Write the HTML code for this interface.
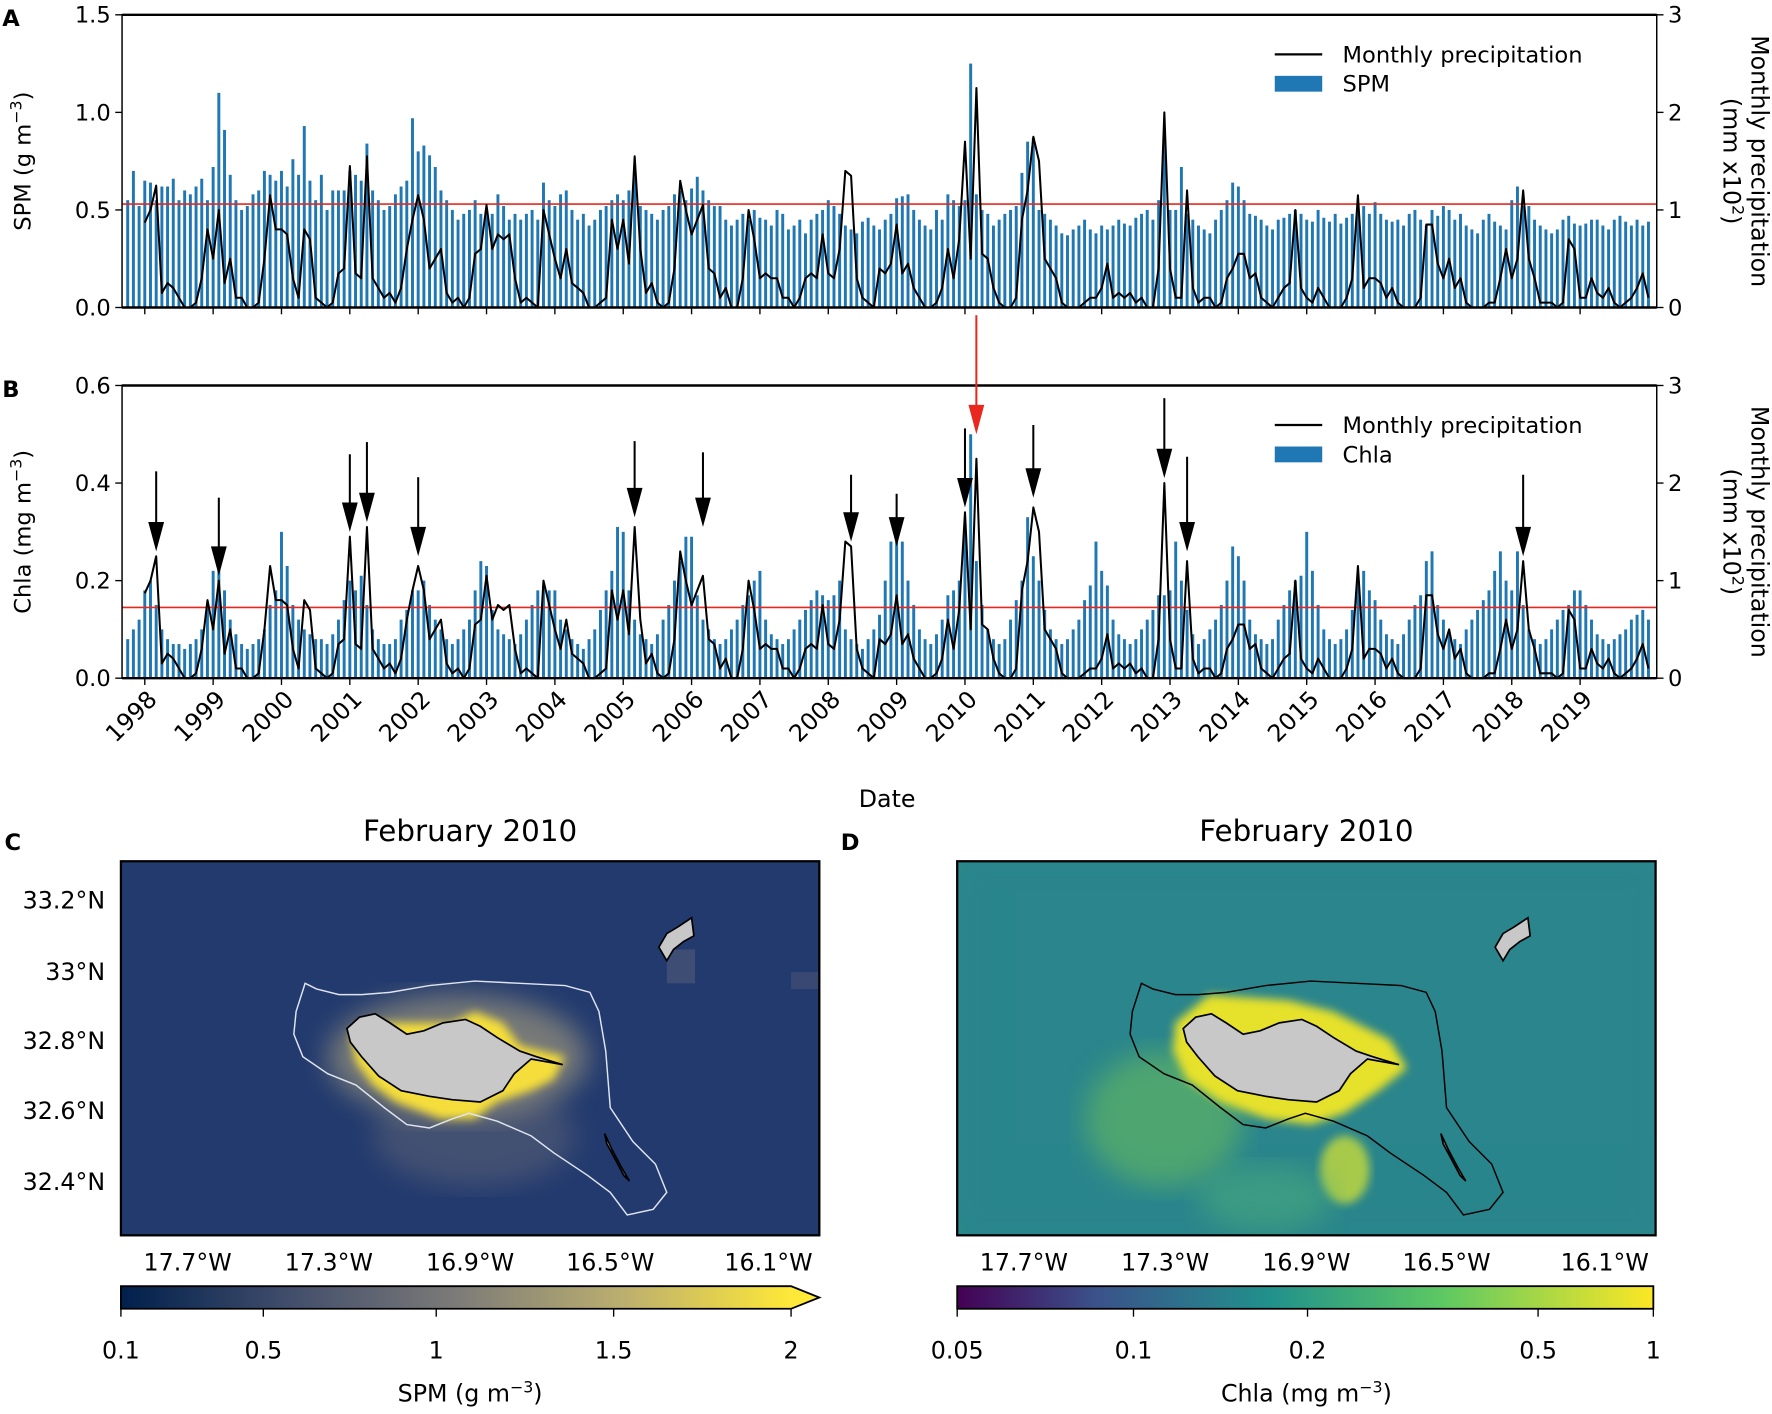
<!DOCTYPE html>
<html><head><meta charset="utf-8"><title>SPM and Chla vs precipitation</title>
<style>
html,body{margin:0;padding:0;background:#fff;}
svg{display:block;font-family:"DejaVu Sans","Liberation Sans",sans-serif;}
</style></head>
<body>
<svg id="fig" width="1772" height="1414" viewBox="0 0 1568 1251" xmlns="http://www.w3.org/2000/svg">
<defs>
<linearGradient id="cividis" x1="0" x2="1" y1="0" y2="0">
<stop offset="0" stop-color="#00204c"/><stop offset="0.25" stop-color="#414d6b"/><stop offset="0.5" stop-color="#7c7b78"/><stop offset="0.75" stop-color="#bcaf6f"/><stop offset="1" stop-color="#fee838"/></linearGradient>
<linearGradient id="viridis" x1="0" x2="1" y1="0" y2="0">
<stop offset="0" stop-color="#440154"/><stop offset="0.2" stop-color="#3b528b"/><stop offset="0.45" stop-color="#21918c"/><stop offset="0.7" stop-color="#5ec962"/><stop offset="1" stop-color="#fde725"/></linearGradient>
<filter id="blur4"><feGaussianBlur stdDeviation="4"/></filter>
<filter id="blur12"><feGaussianBlur stdDeviation="12"/></filter>
<clipPath id="clipC"><rect x="107" y="762" width="618" height="331"/></clipPath>
<clipPath id="clipD"><rect x="847" y="762" width="618" height="331"/></clipPath>
</defs>
<g id="panelA"></g>
<g id="panelB"></g>
<g id="maps"></g>
</svg>
<script>
// ---- data (monthly, Oct 1997 .. Jan 2020) ----
const years = [1998,1999,2000,2001,2002,2003,2004,2005,2006,2007,2008,2009,2010,2011,2012,2013,2014,2015,2016,2017,2018,2019];
const spmValues = [0.55,0.7,0.52,
0.65,0.64,0.55,0.62,0.62,0.66,0.55,0.6,0.58,0.62,0.66,0.55,
0.72,1.1,0.91,0.68,0.55,0.5,0.52,0.58,0.6,0.7,0.68,0.65,
0.7,0.62,0.76,0.68,0.93,0.65,0.55,0.68,0.5,0.6,0.6,0.6,
0.7,0.68,0.65,0.84,0.6,0.55,0.5,0.52,0.58,0.62,0.65,0.97,
0.8,0.83,0.78,0.72,0.6,0.55,0.5,0.45,0.48,0.5,0.55,0.48,
0.5,0.48,0.58,0.52,0.45,0.48,0.45,0.48,0.5,0.45,0.64,0.55,
0.52,0.58,0.6,0.5,0.45,0.48,0.42,0.45,0.5,0.52,0.55,0.58,
0.55,0.6,0.7,0.52,0.5,0.48,0.45,0.5,0.52,0.58,0.6,0.55,
0.61,0.67,0.6,0.55,0.52,0.52,0.45,0.42,0.45,0.48,0.45,0.5,
0.46,0.45,0.42,0.5,0.48,0.4,0.42,0.45,0.38,0.45,0.48,0.5,
0.55,0.52,0.48,0.42,0.4,0.38,0.44,0.46,0.42,0.4,0.45,0.48,
0.56,0.57,0.58,0.5,0.45,0.42,0.4,0.5,0.45,0.58,0.55,0.52,
0.55,1.25,0.58,0.5,0.48,0.42,0.45,0.48,0.5,0.52,0.69,0.85,
0.87,0.5,0.48,0.45,0.42,0.38,0.37,0.4,0.42,0.45,0.4,0.38,
0.42,0.4,0.42,0.45,0.43,0.42,0.46,0.48,0.5,0.45,0.55,0.85,
0.5,0.5,0.72,0.48,0.45,0.42,0.4,0.38,0.45,0.5,0.55,0.64,
0.62,0.55,0.48,0.47,0.45,0.42,0.4,0.45,0.46,0.48,0.5,0.48,
0.45,0.44,0.5,0.46,0.44,0.48,0.43,0.46,0.48,0.5,0.52,0.48,
0.54,0.48,0.45,0.44,0.45,0.42,0.48,0.5,0.45,0.42,0.5,0.47,
0.52,0.5,0.45,0.48,0.42,0.4,0.38,0.45,0.48,0.44,0.42,0.4,
0.55,0.62,0.52,0.52,0.45,0.42,0.4,0.38,0.4,0.45,0.47,0.43,
0.42,0.43,0.45,0.45,0.42,0.4,0.45,0.47,0.44,0.42,0.45,0.42,
0.44];
const chlaValues = [0.08,0.1,0.12,
0.18,0.2,0.15,0.1,0.08,0.07,0.07,0.06,0.07,0.08,0.1,0.15,
0.22,0.24,0.18,0.12,0.09,0.07,0.06,0.07,0.08,0.1,0.15,0.18,
0.3,0.23,0.15,0.12,0.1,0.09,0.08,0.08,0.07,0.09,0.12,0.16,
0.2,0.18,0.21,0.15,0.1,0.08,0.07,0.07,0.08,0.12,0.14,0.18,
0.18,0.2,0.15,0.12,0.1,0.08,0.07,0.08,0.1,0.12,0.18,0.24,
0.23,0.14,0.1,0.09,0.08,0.07,0.09,0.12,0.15,0.18,0.19,0.18,
0.18,0.12,0.1,0.08,0.07,0.06,0.08,0.1,0.14,0.18,0.22,0.31,
0.3,0.18,0.12,0.09,0.08,0.07,0.09,0.12,0.15,0.2,0.24,0.29,
0.29,0.17,0.12,0.1,0.08,0.07,0.08,0.1,0.12,0.15,0.17,0.2,
0.22,0.12,0.09,0.08,0.07,0.08,0.1,0.12,0.14,0.16,0.18,0.17,
0.16,0.17,0.2,0.1,0.08,0.07,0.06,0.08,0.1,0.13,0.2,0.28,
0.32,0.28,0.2,0.15,0.1,0.08,0.07,0.09,0.12,0.17,0.18,0.2,
0.3,0.5,0.24,0.15,0.1,0.08,0.07,0.08,0.12,0.16,0.2,0.33,
0.25,0.2,0.14,0.1,0.08,0.07,0.08,0.1,0.12,0.16,0.19,0.28,
0.22,0.19,0.12,0.09,0.08,0.07,0.08,0.1,0.12,0.14,0.17,0.17,
0.18,0.28,0.2,0.14,0.09,0.07,0.08,0.1,0.12,0.15,0.2,0.27,
0.25,0.2,0.12,0.09,0.08,0.07,0.08,0.12,0.15,0.18,0.2,0.21,
0.3,0.22,0.15,0.1,0.08,0.07,0.08,0.1,0.14,0.2,0.22,0.18,
0.16,0.12,0.09,0.08,0.07,0.09,0.12,0.15,0.17,0.24,0.26,0.15,
0.12,0.09,0.08,0.07,0.1,0.12,0.14,0.16,0.18,0.22,0.26,0.2,
0.18,0.26,0.15,0.1,0.08,0.07,0.08,0.1,0.12,0.14,0.15,0.18,
0.18,0.15,0.12,0.09,0.08,0.07,0.08,0.09,0.1,0.12,0.13,0.14,
0.12];
const precipValues = [null,null,null,
0.87,1.0,1.25,0.15,0.25,0.2,0.1,0,0,0.05,0.3,0.8,
0.5,1.0,0.25,0.5,0.1,0.1,0,0,0.05,0.5,1.15,0.8,
0.8,0.75,0.3,0.1,0.8,0.7,0.1,0.05,0,0.05,0.35,0.4,
1.45,0.35,0.3,1.55,0.3,0.2,0.1,0.15,0.05,0.2,0.6,0.9,
1.15,0.9,0.4,0.5,0.6,0.15,0.05,0.1,0,0.1,0.55,0.6,
1.05,0.6,0.75,0.7,0.75,0.3,0.05,0.1,0.05,0,1.0,0.75,
0.5,0.3,0.6,0.25,0.2,0.15,0,0,0.05,0.1,0.9,0.6,
0.9,0.45,1.55,0.6,0.15,0.25,0.05,0,0.05,0.4,1.3,1.0,
0.75,0.9,1.05,0.4,0.35,0.1,0.2,0,0,0.3,1.0,0.7,
0.3,0.35,0.3,0.3,0.1,0.1,0,0.1,0.3,0.35,0.3,0.75,
0.35,0.3,0.6,1.4,1.35,0.3,0.1,0.05,0,0.4,0.35,0.45,
0.85,0.35,0.45,0.2,0.1,0,0,0.05,0.2,0.6,0.3,0.7,
1.7,0.5,2.25,0.55,0.5,0.2,0.05,0,0,0.1,0.9,1.2,
1.75,1.5,0.5,0.4,0.3,0.05,0,0,0,0.05,0.1,0.1,
0.2,0.45,0.1,0.15,0.1,0.15,0.05,0.1,0,0,0.4,2.0,
0.4,0.1,0.1,1.2,0.2,0.05,0.1,0.1,0,0.05,0.3,0.4,
0.55,0.55,0.3,0.35,0.1,0.05,0,0.1,0.2,0.25,1.0,0.2,
0.1,0.05,0.2,0.1,0,0,0,0.1,0.3,1.15,0.2,0.3,
0.3,0.25,0.1,0.2,0.05,0,0,0,0.1,0.85,0.85,0.45,
0.3,0.5,0.2,0.3,0.05,0,0,0,0.05,0.05,0.3,0.6,
0.3,0.5,1.2,0.5,0.3,0.05,0.05,0.05,0,0.05,0.7,0.6,
0.1,0.1,0.3,0.15,0.1,0.2,0.05,0,0.05,0.1,0.2,0.35,
0.1];
const spmMean = 0.53;
const chlaMean = 0.145;
const spmTicks = [0.0,0.5,1.0,1.5];
const chlaTicks = [0.0,0.2,0.4,0.6];
const precipTicks = [0,1,2,3];
const arrowIdx  = [5,16,39,42,51,89,101,127,135,147,159,182,186,245];
const arrowTip  = [0.26,0.21,0.3,0.32,0.25,0.33,0.31,0.28,0.27,0.35,0.37,0.41,0.26,0.25];
const arrowTail = [0.424,0.37,0.459,0.484,0.412,0.486,0.463,0.417,0.378,0.512,0.519,0.574,0.454,0.417];
const redArrowIdx = 149, redArrowTip = 0.5, redArrowTail = 0.744;
const lonLabels = ["17.7°W","17.3°W","16.9°W","16.5°W","16.1°W"];
const latLabels = ["33.2°N","33°N","32.8°N","32.6°N","32.4°N"];
const spmCbarTicks = ["0.1","0.5","1","1.5","2"];
const chlaCbarTicks = ["0.05","0.1","0.2","0.5","1"];

const NS = "http://www.w3.org/2000/svg";
function mk(tag, attrs, parent){const e=document.createElementNS(NS,tag);for(const k in attrs)e.setAttribute(k,attrs[k]);parent.appendChild(e);return e;}
const X0=108, X1=1466;
function xOf(i){return 113 + i*5.04;}
function txt(parent,x,y,s,size,anchor,extra){const t=mk('text',Object.assign({x:x,y:y,'font-size':size,'text-anchor':anchor||'start',fill:'#000'},extra||{}),parent);t.textContent=s;return t;}

function drawPanel(g, top, bottom, vals, vmax, ticks, mean, letter, ylabel, legendName){
  const yL=v=>bottom-(v/vmax)*(bottom-top);
  const yR=p=>bottom-(p/3)*(bottom-top);
  vals.forEach((v,i)=>{
    const r=mk('rect',{x:xOf(i)-1.3,y:yL(v),width:2.6,height:bottom-yL(v),fill:'#1f77b4'},g);
    
    
  });
  const m=mk('line',{x1:X0,x2:X1,y1:yL(mean),y2:yL(mean),stroke:'#e8281e','stroke-width':1.4},g);
  
  
  let d='';precipValues.forEach((p,i)=>{if(p===null)return;d+=(d?'L':'M')+xOf(i).toFixed(1)+','+yR(p).toFixed(1);});
  const pl=mk('path',{d:d,fill:'none',stroke:'#000','stroke-width':1.8,'stroke-linejoin':'round'},g);
  
  
  const fr=mk('rect',{x:X0,y:top,width:X1-X0,height:bottom-top,fill:'none',stroke:'#000','stroke-width':1.3},g);
  
  
  mk('line',{x1:X0,x2:X1,y1:top,y2:top,stroke:'#000','stroke-width':2.2},g);
  mk('line',{x1:X0,x2:X1,y1:bottom,y2:bottom,stroke:'#000','stroke-width':2.2},g);
  ticks.forEach(t=>{mk('line',{x1:X0-6,x2:X0,y1:yL(t),y2:yL(t),stroke:'#000','stroke-width':1.2},g);
    const l=txt(g,X0-10,yL(t)+7,t.toFixed(1),20,'end');
    
    });
  precipTicks.forEach(t=>{mk('line',{x1:X1,x2:X1+6,y1:yR(t),y2:yR(t),stroke:'#000','stroke-width':1.2},g);
    const l=txt(g,X1+10,yR(t)+7,String(t),20,'start');
    
    });
  years.forEach((y,k)=>{const x=xOf(3+k*12);mk('line',{x1:x,x2:x,y1:bottom,y2:bottom+6,stroke:'#000','stroke-width':1.2},g);});
  const L=txt(g,2,top+10,letter,20,'start',{'font-weight':'bold'});
  
  
  const yl=txt(g,0,0,'',20,'middle',{transform:'translate(27,'+((top+bottom)/2)+') rotate(-90)'});
  yl.innerHTML=ylabel;
  
  
  const r1=txt(g,0,0,'Monthly precipitation',21,'middle',{transform:'translate(1550,'+((top+bottom)/2)+') rotate(90)'});
  
  
  const r2=txt(g,0,0,'',21,'middle',{transform:'translate(1525,'+((top+bottom)/2)+') rotate(90)'});
  r2.innerHTML='(mm x10<tspan dy="-8" font-size="14">2</tspan><tspan dy="8">)</tspan>';
  
  
  const lg=mk('g',{},g);
  
  
  mk('line',{x1:1128,x2:1170,y1:top+35,y2:top+35,stroke:'#000','stroke-width':2},lg);
  txt(lg,1188,top+42,'Monthly precipitation',20,'start');
  mk('rect',{x:1128,y:top+54,width:42,height:14,fill:'#1f77b4'},lg);
  txt(lg,1188,top+68,legendName,20,'start');
  return {yL:yL,yR:yR};
}

const gA=document.getElementById('panelA');
drawPanel(gA,13,272,spmValues,1.5,spmTicks,spmMean,'A','SPM (g m<tspan dy="-8" font-size="14">−3</tspan><tspan dy="8">)</tspan>','SPM');
const gB=document.getElementById('panelB');
const sB=drawPanel(gB,341,600,chlaValues,0.6,chlaTicks,chlaMean,'B','Chla (mg m<tspan dy="-8" font-size="14">−3</tspan><tspan dy="8">)</tspan>','Chla');

function arrow(i,tip,tail,color,name){
  const x=xOf(i), yt=sB.yL(tip), ya=sB.yL(tail);
  const a=mk('g',{},gB);
  
  
  mk('line',{x1:x,x2:x,y1:ya,y2:yt-20,stroke:color,'stroke-width':1.8},a);
  mk('path',{d:`M${x-7},${yt-26} L${x+7},${yt-26} L${x},${yt} Z`,fill:color},a);
}
arrowIdx.forEach((idx,k)=>arrow(idx,arrowTip[k],arrowTail[k],'#000','event-arrow'));
arrow(redArrowIdx,redArrowTip,redArrowTail,'#e8281e','highlight-arrow');

years.forEach((y,k)=>{const x=xOf(3+k*12);
  const t=txt(gB,0,0,String(y),21,'end',{transform:`translate(${x+12},${620}) rotate(-45)`});
  
  });
const dt=txt(gB,785,714,'Date',21,'middle');



// ---- maps ----
const gm=document.getElementById('maps');
const madeira=[[307,910],[318,900],[332,897],[345,905],[360,915],[375,912],[392,905],[412,902],[425,908],[440,918],[460,930],[475,935],[498,942],[470,937],[455,950],[445,965],[425,975],[400,973],[380,970],[355,965],[335,952],[320,935],[310,922]];
const portoSanto=[[583,838],[590,826],[600,820],[612,812],[614,828],[605,833],[596,840],[590,850]];
const desertas=[[535,1003],[542,1018],[550,1033],[557,1045],[552,1040],[544,1025],[537,1012]];
const contour=[[270,870],[280,875],[300,880],[320,880],[345,878],[380,872],[420,868],[460,870],[500,872],[522,878],[530,895],[536,930],[540,980],[560,1010],[580,1030],[590,1055],[578,1070],[555,1075],[540,1055],[520,1040],[490,1020],[470,1005],[440,992],[415,985],[400,990],[380,998],[360,995],[340,980],[315,960],[290,950],[268,935],[260,915],[262,895]];
function pts(arr,dx){return arr.map(p=>(p[0]+dx)+','+p[1]).join(' ');}

function drawMap(dx, clip, bg, letter, cbarGrad, cbarTicks, cbarTitle, isC){
  const g=mk('g',{},gm);
  
  
  const c=mk('g',{'clip-path':'url(#'+clip+')'},g);
  mk('rect',{x:107+dx,y:762,width:618,height:331,fill:bg},c);
  if(isC){
    mk('ellipse',{cx:420,cy:1005,rx:90,ry:45,fill:'#6a6c78',opacity:0.45,filter:'url(#blur12)'},c);
    mk('ellipse',{cx:405,cy:935,rx:115,ry:55,fill:'#8d8a7a',opacity:0.8,filter:'url(#blur12)'},c);
    mk('polygon',{points:pts([[310,915],[330,905],[400,905],[420,895],[445,905],[460,925],[500,935],[490,955],[470,965],[440,975],[420,990],[390,990],[350,975],[330,960],[315,940]],0),fill:'#f5de3a',filter:'url(#blur4)'},c);
    mk('rect',{x:590,y:840,width:25,height:30,fill:'#5a5f7a',opacity:0.5},c);
    mk('rect',{x:700,y:860,width:25,height:15,fill:'#5a5f7a',opacity:0.4},c);
  } else {
    mk('rect',{x:847,y:762,width:618,height:331,fill:'#2b7b8c',opacity:0.35,filter:'url(#blur12)'},c);
    mk('ellipse',{cx:1030,cy:990,rx:70,ry:60,fill:'#6cc05a',opacity:0.55,filter:'url(#blur12)'},c);
    mk('ellipse',{cx:1190,cy:1035,rx:22,ry:30,fill:'#c8dc3a',opacity:0.8,filter:'url(#blur4)'},c);
    mk('ellipse',{cx:1120,cy:1060,rx:60,ry:30,fill:'#4fb07a',opacity:0.5,filter:'url(#blur12)'},c);
    mk('polygon',{points:pts([[300,905],[330,880],[400,885],[440,895],[490,920],[505,945],[480,965],[450,985],[420,995],[380,990],[340,975],[310,955],[298,930]],dx),fill:'#e6e12a',filter:'url(#blur4)'},c);
  }
  const ct=mk('polygon',{points:pts(contour,dx),fill:'none',stroke:isC?'#dfe4ee':'#000','stroke-width':1.3},c);
  
  
  [madeira,portoSanto,desertas].forEach((isl,k)=>{
    const p=mk('polygon',{points:pts(isl,dx),fill:'#c8c8c8',stroke:'#000','stroke-width':1.5},c);
    
    
  });
  mk('rect',{x:107+dx,y:762,width:618,height:331,fill:'none',stroke:'#000','stroke-width':2},g);
  const L=txt(g,4+dx,752,letter,20,'start',{'font-weight':'bold'});
  
  
  const T=txt(g,416+dx,744,'February 2010',26,'middle');
  
  
  const lonX=[166,291,416,540,680];
  lonLabels.forEach((s,k)=>{const t=txt(g,lonX[k]+dx,1124,s,21,'middle');
    
    });
  if(isC){const latY=[804,867,928,990,1053];
    latLabels.forEach((s,k)=>{const t=txt(g,93,latY[k],s,21,'end');
      
      });}
  const cb=mk('g',{},g);
  
  
  const w=isC?593:616;
  mk('rect',{x:107+dx,y:1138,width:w,height:20,fill:'url(#'+cbarGrad+')'},cb);
  if(isC){mk('polygon',{points:`${700},1138 ${725},1148 ${700},1158`,fill:'#fee838'},cb);
    mk('path',{d:`M107,1138 L700,1138 L725,1148 L700,1158 L107,1158 Z`,fill:'none',stroke:'#000','stroke-width':1.6},cb);}
  else mk('rect',{x:107+dx,y:1138,width:w,height:20,fill:'none',stroke:'#000','stroke-width':1.6},cb);
  const tx=isC?[107,233,386,543,700]:[847,1003,1157,1361,1463];
  cbarTicks.forEach((s,k)=>{mk('line',{x1:tx[k],x2:tx[k],y1:1158,y2:1165,stroke:'#000','stroke-width':1.2},cb);
    const t=txt(cb,tx[k],1202,s,21,'middle');
    
    });
  const ttl=txt(cb,416+dx,1240,'',21,'middle');
  ttl.innerHTML=cbarTitle;
  
  
}
drawMap(0,'clipC','#223a6e','C','cividis',spmCbarTicks,'SPM (g m<tspan dy="-8" font-size="14">−3</tspan><tspan dy="8">)</tspan>',true);
drawMap(740,'clipD','#2a8a8c','D','viridis',chlaCbarTicks,'Chla (mg m<tspan dy="-8" font-size="14">−3</tspan><tspan dy="8">)</tspan>',false);
</script>
</body></html>
